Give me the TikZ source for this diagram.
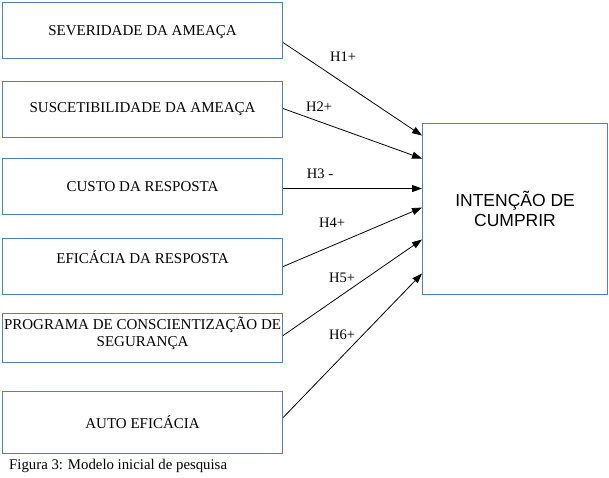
\documentclass[tikz,border=0pt]{standalone}
\usepackage{fontspec}
\setmainfont{Liberation Serif}
\newfontfamily\arialfont{Liberation Sans}
\usetikzlibrary{arrows.meta}
\definecolor{boxblue}{RGB}{79,129,189}

\begin{document}
\begin{tikzpicture}[x=1pt,y=-1pt,
	factor/.style={draw=boxblue,line width=1.1pt,minimum width=280pt,minimum height=56pt,inner sep=0pt,anchor=north west,font=\fontsize{15}{17.5}\selectfont,align=center},
	hyp/.style={-{Triangle[length=10pt,width=7pt]},line width=0.8pt},
	hlabel/.style={font=\fontsize{14.5}{17}\selectfont}]
	\useasboundingbox (0,0) rectangle (609,478);
	\node[factor,text depth=0pt] (sev) at (2,2) {SEVERIDADE DA AMEAÇA};
	\node[factor] (sus) at (2,81) {SUSCETIBILIDADE DA AMEAÇA};
	\node[factor] (cus) at (2,158) {CUSTO DA RESPOSTA};
	\node[factor,text depth=19pt] (efi) at (2,238) {EFICÁCIA DA RESPOSTA};
	\node[factor,minimum height=49pt,text depth=13pt] (prg) at (2,313) {PROGRAMA DE CONSCIENTIZAÇÃO DE\\SEGURANÇA};
	\node[factor,minimum height=62pt] (aut) at (2,391) {AUTO EFICÁCIA};
	\node[factor,minimum width=185pt,minimum height=171pt,font=\arialfont\fontsize{17.5}{20}\selectfont] (int) at (422,123) {INTENÇÃO DE\\CUMPRIR};
	% hipoteses
	\draw[hyp] ([yshift=-12pt]sev.east) -- ([yshift=73.5pt]int.west);
	\draw[hyp] ([yshift=1pt]sus.east) -- ([yshift=50.5pt]int.west);
	\draw[hyp] ([yshift=-2pt]cus.east) -- ([yshift=20.5pt]int.west);
	\draw[hyp] (efi.east) -- ([yshift=1.5pt]int.west);
	\draw[hyp] ([yshift=2.5pt]prg.east) -- ([yshift=-30.5pt]int.west);
	\draw[hyp] ([yshift=5pt]aut.east) -- ([yshift=-64.5pt]int.west);
	\node[hlabel] (h1) at (343,57) {H1+};
	\node[hlabel] (h2) at (319,107) {H2+};
	\node[hlabel] (h3) at (320,174) {H3 -};
	\node[hlabel] (h4) at (332,223) {H4+};
	\node[hlabel] (h5) at (342,278) {H5+};
	\node[hlabel] (h6) at (342,335) {H6+};
	\node[hlabel,anchor=west,inner sep=0pt,font=\fontsize{14.8}{17}\selectfont] (fig) at (9,466) {Figura 3: Modelo inicial de pesquisa};
\end{tikzpicture}
\end{document}
